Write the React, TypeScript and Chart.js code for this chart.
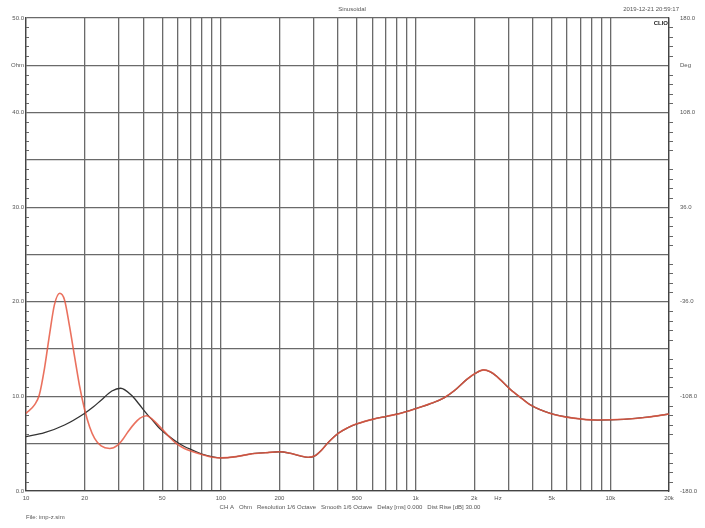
import React, { useEffect, useRef } from "react";
import { Chart, registerables } from "chart.js";

Chart.register(...registerables);

// impedance (red), Hz / Ohm
const redFreq = [
  10, 11.06, 11.7, 12.45, 13.2, 14, 14.9, 15.77, 16.7, 17.76, 18.8, 19.95, 21.2, 22.5, 24.3, 26.9, 29.6,
  31.5, 33.4, 36.1, 38.5, 41.5, 45, 48.6, 54, 59.2, 65, 72, 80, 91, 100, 120, 141, 170, 200, 226, 255, 281,
  304, 330, 355, 401, 450, 500, 607, 711, 833, 1000, 1235, 1400, 1580, 1833, 2030, 2233, 2420, 2617, 3061,
  3500, 3884, 4920, 6470, 8550, 11700, 15450, 20000
];
const redOhm = [
  8.2, 9.1, 10.15, 13.0, 16.5, 19.7, 20.9, 20.2, 17.5, 14.2, 11.2, 8.7, 6.8, 5.57, 4.76, 4.5, 4.86,
  5.5, 6.27, 7.15, 7.7, 7.96, 7.5, 6.8, 5.8, 5.0, 4.5, 4.15, 3.85, 3.56, 3.5, 3.63, 3.9, 4.05, 4.15, 4.0, 3.72, 3.56,
  3.72, 4.35, 5.1, 6.1, 6.7, 7.1, 7.6, 7.9, 8.2, 8.7, 9.35, 9.85, 10.6, 11.8, 12.45, 12.8, 12.6, 12.1, 10.75,
  9.8, 9.1, 8.2, 7.7, 7.5, 7.58, 7.8, 8.14
];

// second curve (black) below 100 Hz, then it runs under the red one
const blackFreq = [10, 12.45, 15.77, 19.95, 22.2, 24.3, 27.6, 30.6, 34.7, 38, 41.5, 45, 48.6, 54, 59.2, 65, 72, 80, 91];
const blackOhm = [5.74, 6.17, 6.98, 8.2, 8.9, 9.6, 10.57, 10.86, 10.15, 9.2, 8.2, 7.4, 6.6, 5.8, 5.2, 4.7, 4.3, 3.9, 3.6];

const xTicks = [
  10, 20, 30, 40, 50, 60, 70, 80, 90, 100, 200, 300, 400, 500, 600, 700, 800, 900,
  1000, 2000, 3000, 4000, 5000, 6000, 7000, 8000, 9000, 10000, 20000
];
const xLabels: Record<number, string> = {
  10: "10", 20: "20", 50: "50", 100: "100", 200: "200", 500: "500",
  1000: "1k", 2000: "2k", 5000: "5k", 10000: "10k", 20000: "20k"
};
const leftLabels: Record<number, string> = {
  50: "50.0", 45: "Ohm", 40: "40.0", 30: "30.0", 20: "20.0", 10: "10.0", 0: "0.0"
};
const rightLabels: Record<number, string> = {
  180: "180.0", 144: "Deg", 108: "108.0", 36: "36.0", [-36]: "-36.0", [-108]: "-108.0", [-180]: "-180.0"
};

const FONT = "'Liberation Sans', Arial, sans-serif";
const TEXT = "#555";
const GRID = "#6a6a6a";

const texts = {
  id: "clioTexts",
  afterDraw(chart: any) {
    const ctx = chart.ctx as CanvasRenderingContext2D;
    const x = chart.scales.x;
    const y = chart.scales.y;
    const area = chart.chartArea;
    ctx.save();
    // minor ticks
    ctx.strokeStyle = "#666";
    ctx.lineWidth = 1;
    for (let v = 1; v < 50; v++) {
      if (v % 5 === 0) continue;
      const py = Math.round(y.getPixelForValue(v)) + 0.5;
      ctx.beginPath();
      ctx.moveTo(area.left, py);
      ctx.lineTo(area.left + 3, py);
      ctx.moveTo(area.right, py);
      ctx.lineTo(area.right + 4, py);
      ctx.stroke();
    }
    ctx.fillStyle = TEXT;
    ctx.font = "6px " + FONT;
    ctx.textBaseline = "middle";
    ctx.textAlign = "center";
    ctx.fillText("Sinusoidal", 352, 9);
    ctx.fillText("Hz", x.getPixelForValue(2650), 498);
    ctx.fillText(
      "CH A   Ohm   Resolution 1/6 Octave   Smooth 1/6 Octave   Delay [ms] 0.000   Dist Rise [dB] 30.00",
      350, 507
    );
    ctx.textAlign = "right";
    ctx.fillText("2019-12-21 20:59:17", 679, 9);
    ctx.textAlign = "left";
    ctx.fillText("File: imp-z.sim", 26, 517);
    ctx.fillStyle = "#222";
    ctx.font = "bold 6px " + FONT;
    ctx.textAlign = "right";
    ctx.fillText("CLIO", area.right - 1, 23);
    ctx.restore();
  }
};

const App: React.FC = () => {
  const chartRef = useRef<HTMLCanvasElement>(null);

  useEffect(() => {
    let myChart: Chart | null = null;
    if (chartRef.current) {
      const redPts = redFreq.map((f, i) => ({ x: f, y: redOhm[i] }));
      const blackPts = blackFreq
        .map((f, i) => ({ x: f, y: blackOhm[i] }))
        .concat(redPts.filter((p) => p.x >= 100));
      myChart = new Chart(chartRef.current, {
        type: "line",
        data: {
          datasets: [
            {
              data: redPts,
              borderColor: "rgba(230,88,66,0.85)",
              borderWidth: 1.6,
              pointRadius: 0,
              cubicInterpolationMode: "monotone"
            },
            {
              data: blackPts,
              borderColor: "#333",
              borderWidth: 1.3,
              pointRadius: 0,
              cubicInterpolationMode: "monotone"
            }
          ]
        },
        options: {
          animation: false,
          responsive: true,
          maintainAspectRatio: false,
          layout: { padding: { top: 18, left: 0, right: 0, bottom: 0 } },
          plugins: { legend: { display: false }, tooltip: { enabled: false } },
          scales: {
            x: {
              type: "logarithmic",
              min: 10,
              max: 20000,
              afterBuildTicks: (scale: any) => {
                scale.ticks = xTicks.map((v) => ({ value: v }));
              },
              afterFit: (scale: any) => {
                scale.height = 37;
              },
              grid: { color: GRID, lineWidth: 1.3, drawTicks: false },
              border: { color: "#444", width: 1.3 },
              ticks: {
                autoSkip: false,
                maxRotation: 0,
                padding: 4,
                color: TEXT,
                font: { family: FONT, size: 6 },
                callback: (v: any) => xLabels[Number(v)] ?? ""
              }
            },
            y: {
              min: 0,
              max: 50,
              afterFit: (scale: any) => {
                scale.width = 26;
              },
              grid: { color: GRID, lineWidth: 1.3, drawTicks: false },
              border: { color: "#444", width: 1.3 },
              ticks: {
                stepSize: 5,
                padding: 2,
                color: TEXT,
                font: { family: FONT, size: 6 },
                callback: (v: any) => leftLabels[Number(v)] ?? ""
              }
            },
            y2: {
              position: "right",
              min: -180,
              max: 180,
              afterFit: (scale: any) => {
                scale.width = 36;
              },
              grid: { drawOnChartArea: false, drawTicks: false },
              border: { color: "#444", width: 1.3 },
              ticks: {
                stepSize: 36,
                padding: 11,
                color: TEXT,
                font: { family: FONT, size: 6 },
                callback: (v: any) => rightLabels[Number(v)] ?? ""
              }
            }
          }
        },
        plugins: [texts]
      });
    }
    return () => {
      if (myChart) myChart.destroy();
    };
  }, []);

  return (
    <div style={{ position: "absolute", left: 0, top: 0, width: 705, height: 528, background: "#fff" }}>
      <canvas ref={chartRef} />
    </div>
  );
};

export default App;
